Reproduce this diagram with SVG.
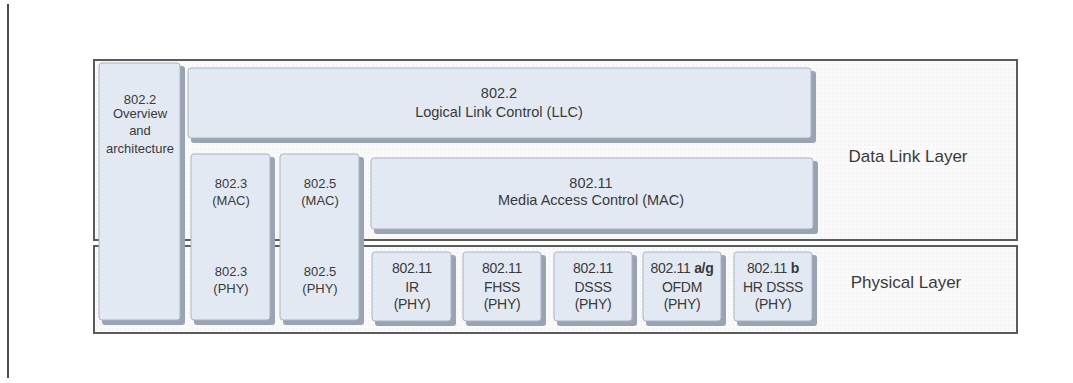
<svg xmlns="http://www.w3.org/2000/svg" width="1073" height="383" viewBox="0 0 1073 383">
<style>
.layer{fill:url(#dots);stroke:#5a5a5a;stroke-width:2}
.box{fill:#e3e9f3;stroke:#a9b3c2;stroke-width:1}
.sh{fill:#98a3b3}
text{font-family:"Liberation Sans",Arial,sans-serif;font-size:13px;fill:#3a3a3a;text-anchor:middle}
.big{font-size:17px}
.mid{font-size:14.5px}
.phy{font-size:14px;letter-spacing:-0.3px}
</style>
<defs>
<pattern id="dots" width="4" height="4" patternUnits="userSpaceOnUse">
<rect width="4" height="4" fill="#fafafa"/>
<circle cx="1" cy="1" r="0.6" fill="#e0e0e0"/>
</pattern>
</defs>
<rect width="1073" height="383" fill="#fff"/>
<line x1="8" y1="4" x2="8" y2="378" stroke="#111" stroke-width="1.5"/>
<g id="datalink">
<rect class="layer" x="94" y="60" width="923" height="180"/>
<text class="big" x="908" y="162">Data Link Layer</text>
</g>
<g id="physical">
<rect class="layer" x="94" y="246" width="923" height="87"/>
<text class="big" x="906" y="288">Physical Layer</text>
</g>
<g id="overview">
<rect class="sh" x="102" y="66" width="83" height="259" rx="3"/>
<rect class="box" x="99" y="63" width="81" height="257" rx="3"/>
<text x="140" y="104">802.2</text>
<text x="140" y="118">Overview</text>
<text x="140" y="135">and</text>
<text x="140" y="153">architecture</text>
</g>
<g id="llc">
<rect class="sh" x="191" y="71" width="625" height="72" rx="3"/>
<rect class="box" x="188" y="68" width="623" height="70" rx="3"/>
<text class="mid" x="499" y="98">802.2</text>
<text class="mid" x="499" y="117">Logical Link Control (LLC)</text>
</g>
<g id="n8023">
<rect class="sh" x="194" y="157" width="81" height="168" rx="3"/>
<rect class="box" x="191" y="154" width="79" height="166" rx="3"/>
<text x="231" y="188">802.3</text>
<text x="231" y="205">(MAC)</text>
<text x="231" y="276">802.3</text>
<text x="231" y="293">(PHY)</text>
</g>
<g id="n8025">
<rect class="sh" x="283" y="157" width="81" height="168" rx="3"/>
<rect class="box" x="280" y="154" width="79" height="166" rx="3"/>
<text x="320" y="188">802.5</text>
<text x="320" y="205">(MAC)</text>
<text x="320" y="276">802.5</text>
<text x="320" y="293">(PHY)</text>
</g>
<g id="mac80211">
<rect class="sh" x="374" y="161" width="444" height="73" rx="3"/>
<rect class="box" x="371" y="158" width="442" height="71" rx="3"/>
<text class="mid" x="591" y="188">802.11</text>
<text class="mid" x="591" y="205">Media Access Control (MAC)</text>
</g>
<g id="ir">
<rect class="sh" x="375" y="255" width="81" height="71" rx="3"/>
<rect class="box" x="372" y="252" width="79" height="69" rx="3"/>
<text class="phy" x="412" y="273">802.11</text>
<text class="phy" x="412" y="292">IR</text>
<text class="phy" x="412" y="309">(PHY)</text>
</g>
<g id="fhss">
<rect class="sh" x="466" y="255" width="80" height="71" rx="3"/>
<rect class="box" x="463" y="252" width="78" height="69" rx="3"/>
<text class="phy" x="502" y="273">802.11</text>
<text class="phy" x="502" y="292">FHSS</text>
<text class="phy" x="502" y="309">(PHY)</text>
</g>
<g id="dsss">
<rect class="sh" x="557" y="255" width="80" height="71" rx="3"/>
<rect class="box" x="554" y="252" width="78" height="69" rx="3"/>
<text class="phy" x="593" y="273">802.11</text>
<text class="phy" x="593" y="292">DSSS</text>
<text class="phy" x="593" y="309">(PHY)</text>
</g>
<g id="ofdm">
<rect class="sh" x="646" y="255" width="80" height="71" rx="3"/>
<rect class="box" x="643" y="252" width="78" height="69" rx="3"/>
<text class="phy" x="682" y="273">802.11 <tspan font-weight="bold">a/g</tspan></text>
<text class="phy" x="682" y="292">OFDM</text>
<text class="phy" x="682" y="309">(PHY)</text>
</g>
<g id="hrdsss">
<rect class="sh" x="737" y="255" width="80" height="71" rx="3"/>
<rect class="box" x="734" y="252" width="78" height="69" rx="3"/>
<text class="phy" x="773" y="273">802.11 <tspan font-weight="bold">b</tspan></text>
<text class="phy" x="773" y="292">HR DSSS</text>
<text class="phy" x="773" y="309">(PHY)</text>
</g>
<g id="connectors"></g>
</svg>
